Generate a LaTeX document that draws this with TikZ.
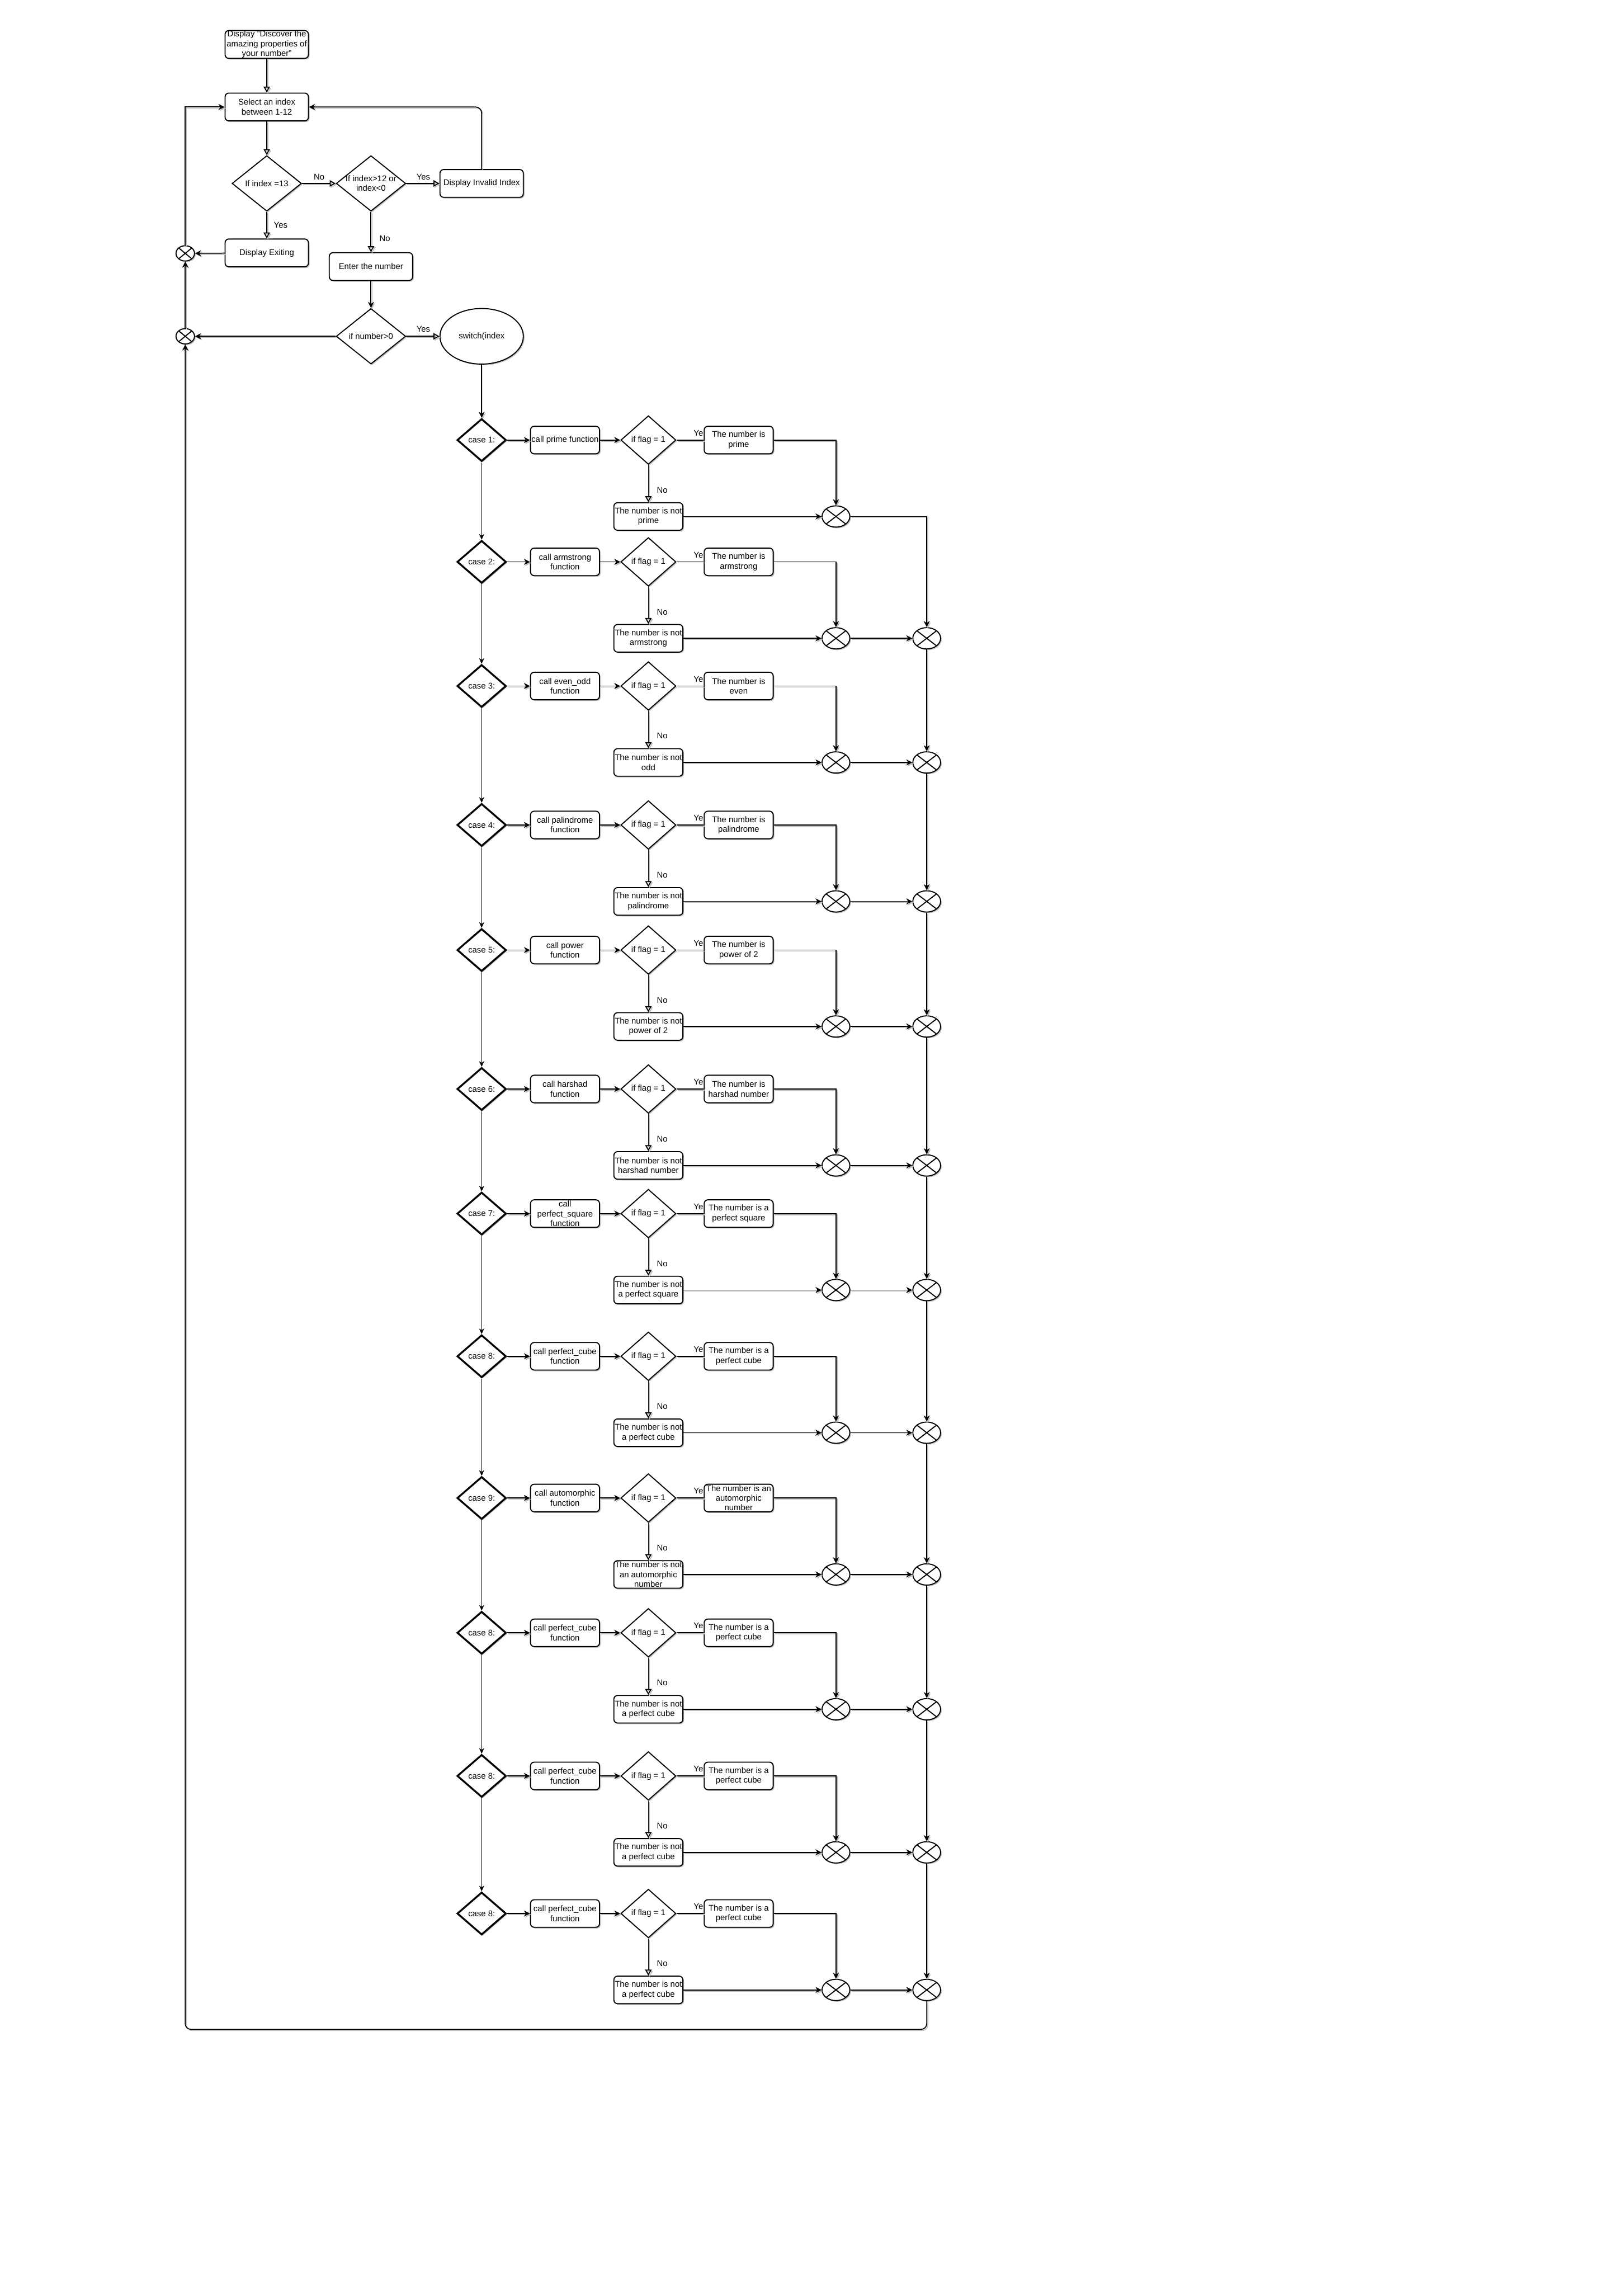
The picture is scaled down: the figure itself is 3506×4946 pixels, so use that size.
\documentclass[tikz,border=0pt]{standalone}
\usepackage{fontspec}
\setmainfont{Liberation Sans}
\usetikzlibrary{shapes.geometric,arrows.meta,shadows}
\newcommand{\mkrow}[6]{%
  \node[cdec] (c#1) at (1040,#2) {};
  \node[lbl] (ct#1) at (c#1) {#3};
  \node[sbox] (f#1) at (1220,#2) {#4};
  \node[fdec] (g#1) at (1400,#2) {};
  \node[lbl] (gt#1) at (g#1) {if flag = 1};
  \node[sbox] (y#1) at (1595,#2) {#5};
  \node[sbox] (n#1) at (1400,#2+165) {#6};
  \node[sumc] (a#1) at (1805,#2+165) {};
  \draw[fa] (c#1) -- (f#1);
  \draw[fa] (f#1) -- (g#1);
  \draw[conn] (g#1) -- (y#1);
  \node[tl] (ye#1) at (1508,#2-15) {Ye};
  \draw[oa] (g#1) -- (n#1);
  \node[tl] (no#1) at (1430,#2+108) {No};
  \draw[fa] (n#1) -- (a#1);
  \draw[fa] (y#1.east) -| (a#1.north);
}
\begin{document}
\begin{tikzpicture}[x=0.2pt,y=-0.2pt,
  font=\fontsize{3.6pt}{4.2pt}\selectfont,
  nsh/.style={drop shadow={shadow xshift=0.5pt,shadow yshift=-0.5pt,fill=black!25,opacity=1}},
  box/.style={draw,rounded corners=1.6pt,line width=0.45pt,fill=white,minimum width=36pt,minimum height=12pt,align=center,inner sep=0pt,nsh},
  sbox/.style={box,minimum width=29.8pt,minimum height=11.9pt},
  dec/.style={draw,diamond,line width=0.45pt,fill=white,inner sep=0pt,minimum width=30pt,minimum height=24pt,nsh},
  fdec/.style={dec,minimum width=23.8pt,minimum height=21pt},
  cdec/.style={dec,line width=0.8pt,minimum width=21.2pt,minimum height=18.4pt},
  lbl/.style={align=center,inner sep=0pt},
  sumc/.style={draw,ellipse,line width=0.45pt,fill=white,inner sep=0pt,minimum width=12pt,minimum height=9.2pt,nsh,
     path picture={\draw[line width=0.45pt] (path picture bounding box.north west)--(path picture bounding box.south east) (path picture bounding box.north east)--(path picture bounding box.south west);}},
  lsumc/.style={sumc,minimum width=8pt,minimum height=6.6pt},
  lsh/.style={preaction={draw=black!25,transform canvas={xshift=0.5pt,yshift=-0.5pt}}},
  conn/.style={line width=0.42pt,lsh},
  oa/.style={conn,-{Triangle[open,length=2.6pt,width=2.8pt]}},
  fa/.style={conn,-{Stealth[length=2.6pt,width=2.6pt,inset=0.8pt]}},
  clink/.style={line width=0.22pt,-{Stealth[length=2.4pt,width=2.2pt,inset=0.7pt]}},
  tl/.style={inner sep=0pt},
]
\fill[white] (0,0) rectangle (3506,4946);
\useasboundingbox (0,0) rectangle (3506,4946);

% top part
\node[box] (disp) at (576,96) {Display "Discover the\\amazing properties of\\your number"};
\node[box] (sel) at (576,231) {Select an index\\between 1-12};
\node[dec] (d1) at (576,396) {};
\node[lbl] (d1t) at (d1) {If index =13};
\node[dec] (d2) at (801,396) {};
\node[lbl] (d2t) at (d2) {If index>12 or\\index<0};
\node[box] (inv) at (1040,396) {Display Invalid Index};
\node[box] (ex) at (576,546) {Display Exiting};
\node[box] (ent) at (801,575.5) {Enter the number};
\node[dec] (num) at (801,726) {};
\node[lbl] (numt) at (num) {if number>0};
\node[draw,ellipse,line width=0.45pt,fill=white,inner sep=0pt,minimum width=36pt,minimum height=24pt,nsh] (sw) at (1040,726) {switch(index};
\node[lsumc] (lc1) at (400,547) {};
\node[lsumc] (lc2) at (400,726) {};

\draw[oa] (disp) -- (sel);
\draw[oa] (sel) -- (d1);
\draw[oa] (d1) -- (d2);
\node[tl] (lno1) at (689,382) {No};
\draw[oa] (d2) -- (inv);
\node[tl] (lyes1) at (914,382) {Yes};
\draw[oa] (d1) -- (ex);
\node[tl] (lyes2) at (606,486) {Yes};
\draw[oa] (d2) -- (ent);
\node[tl] (lno2) at (831,515) {No};
\draw[fa] (ent) -- (num);
\draw[oa] (num) -- (sw);
\node[tl] (lyes3) at (914,710) {Yes};
\draw[fa] (num) -- (lc2);
\draw[fa] (ex) -- (lc1);
\draw[fa] (lc2) -- (lc1);
\draw[fa] (lc1.north) |- (sel.west);
\draw[fa,rounded corners=2.6pt] (inv.north) |- (sel.east);

% case rows
\mkrow{1}{950}{case 1:}{call prime function}{The number is\\prime}{The number is not\\prime}
\mkrow{2}{1213}{case 2:}{call armstrong\\function}{The number is\\armstrong}{The number is not\\armstrong}
\mkrow{3}{1481}{case 3:}{call even\_odd\\function}{The number is\\even}{The number is not\\odd}
\mkrow{4}{1781}{case 4:}{call palindrome\\function}{The number is\\palindrome}{The number is not\\palindrome}
\mkrow{5}{2051}{case 5:}{call power\\function}{The number is\\power of 2}{The number is not\\power of 2}
\mkrow{6}{2351}{case 6:}{call harshad\\function}{The number is\\harshad number}{The number is not\\harshad number}
\mkrow{7}{2620}{case 7:}{call\\perfect\_square\\function}{The number is a\\perfect square}{The number is not\\a perfect square}
\mkrow{8}{2928}{case 8:}{call perfect\_cube\\function}{The number is a\\perfect cube}{The number is not\\a perfect cube}
\mkrow{9}{3234}{case 9:}{call automorphic\\function}{The number is an\\automorphic\\number}{The number is not\\an automorphic\\number}
\mkrow{10}{3525}{case 8:}{call perfect\_cube\\function}{The number is a\\perfect cube}{The number is not\\a perfect cube}
\mkrow{11}{3834}{case 8:}{call perfect\_cube\\function}{The number is a\\perfect cube}{The number is not\\a perfect cube}
\mkrow{12}{4131}{case 8:}{call perfect\_cube\\function}{The number is a\\perfect cube}{The number is not\\a perfect cube}

\draw[fa] (sw) -- (c1);

\coordinate (colx) at (2001,0);
\foreach \k in {2,...,12} {
  \node[sumc] (b\k) at (a\k -| colx) {};
  \draw[fa] (a\k) -- (b\k);
}
\draw[fa] (a1) -| (b2.north);
\foreach \k [evaluate=\k as \nk using int(\k+1)] in {2,...,11} {
  \draw[fa] (b\k) -- (b\nk);
}
\foreach \k [evaluate=\k as \nk using int(\k+1)] in {1,...,11} {
  \draw[clink] (c\k) -- (c\nk);
}
\coordinate (br) at (2001,4381);
\coordinate (bl) at (400,4381);
\draw[fa,rounded corners=2.4pt] (b12.south) -- (br) -- (bl) -- (lc2.south);
\end{tikzpicture}
\end{document}
